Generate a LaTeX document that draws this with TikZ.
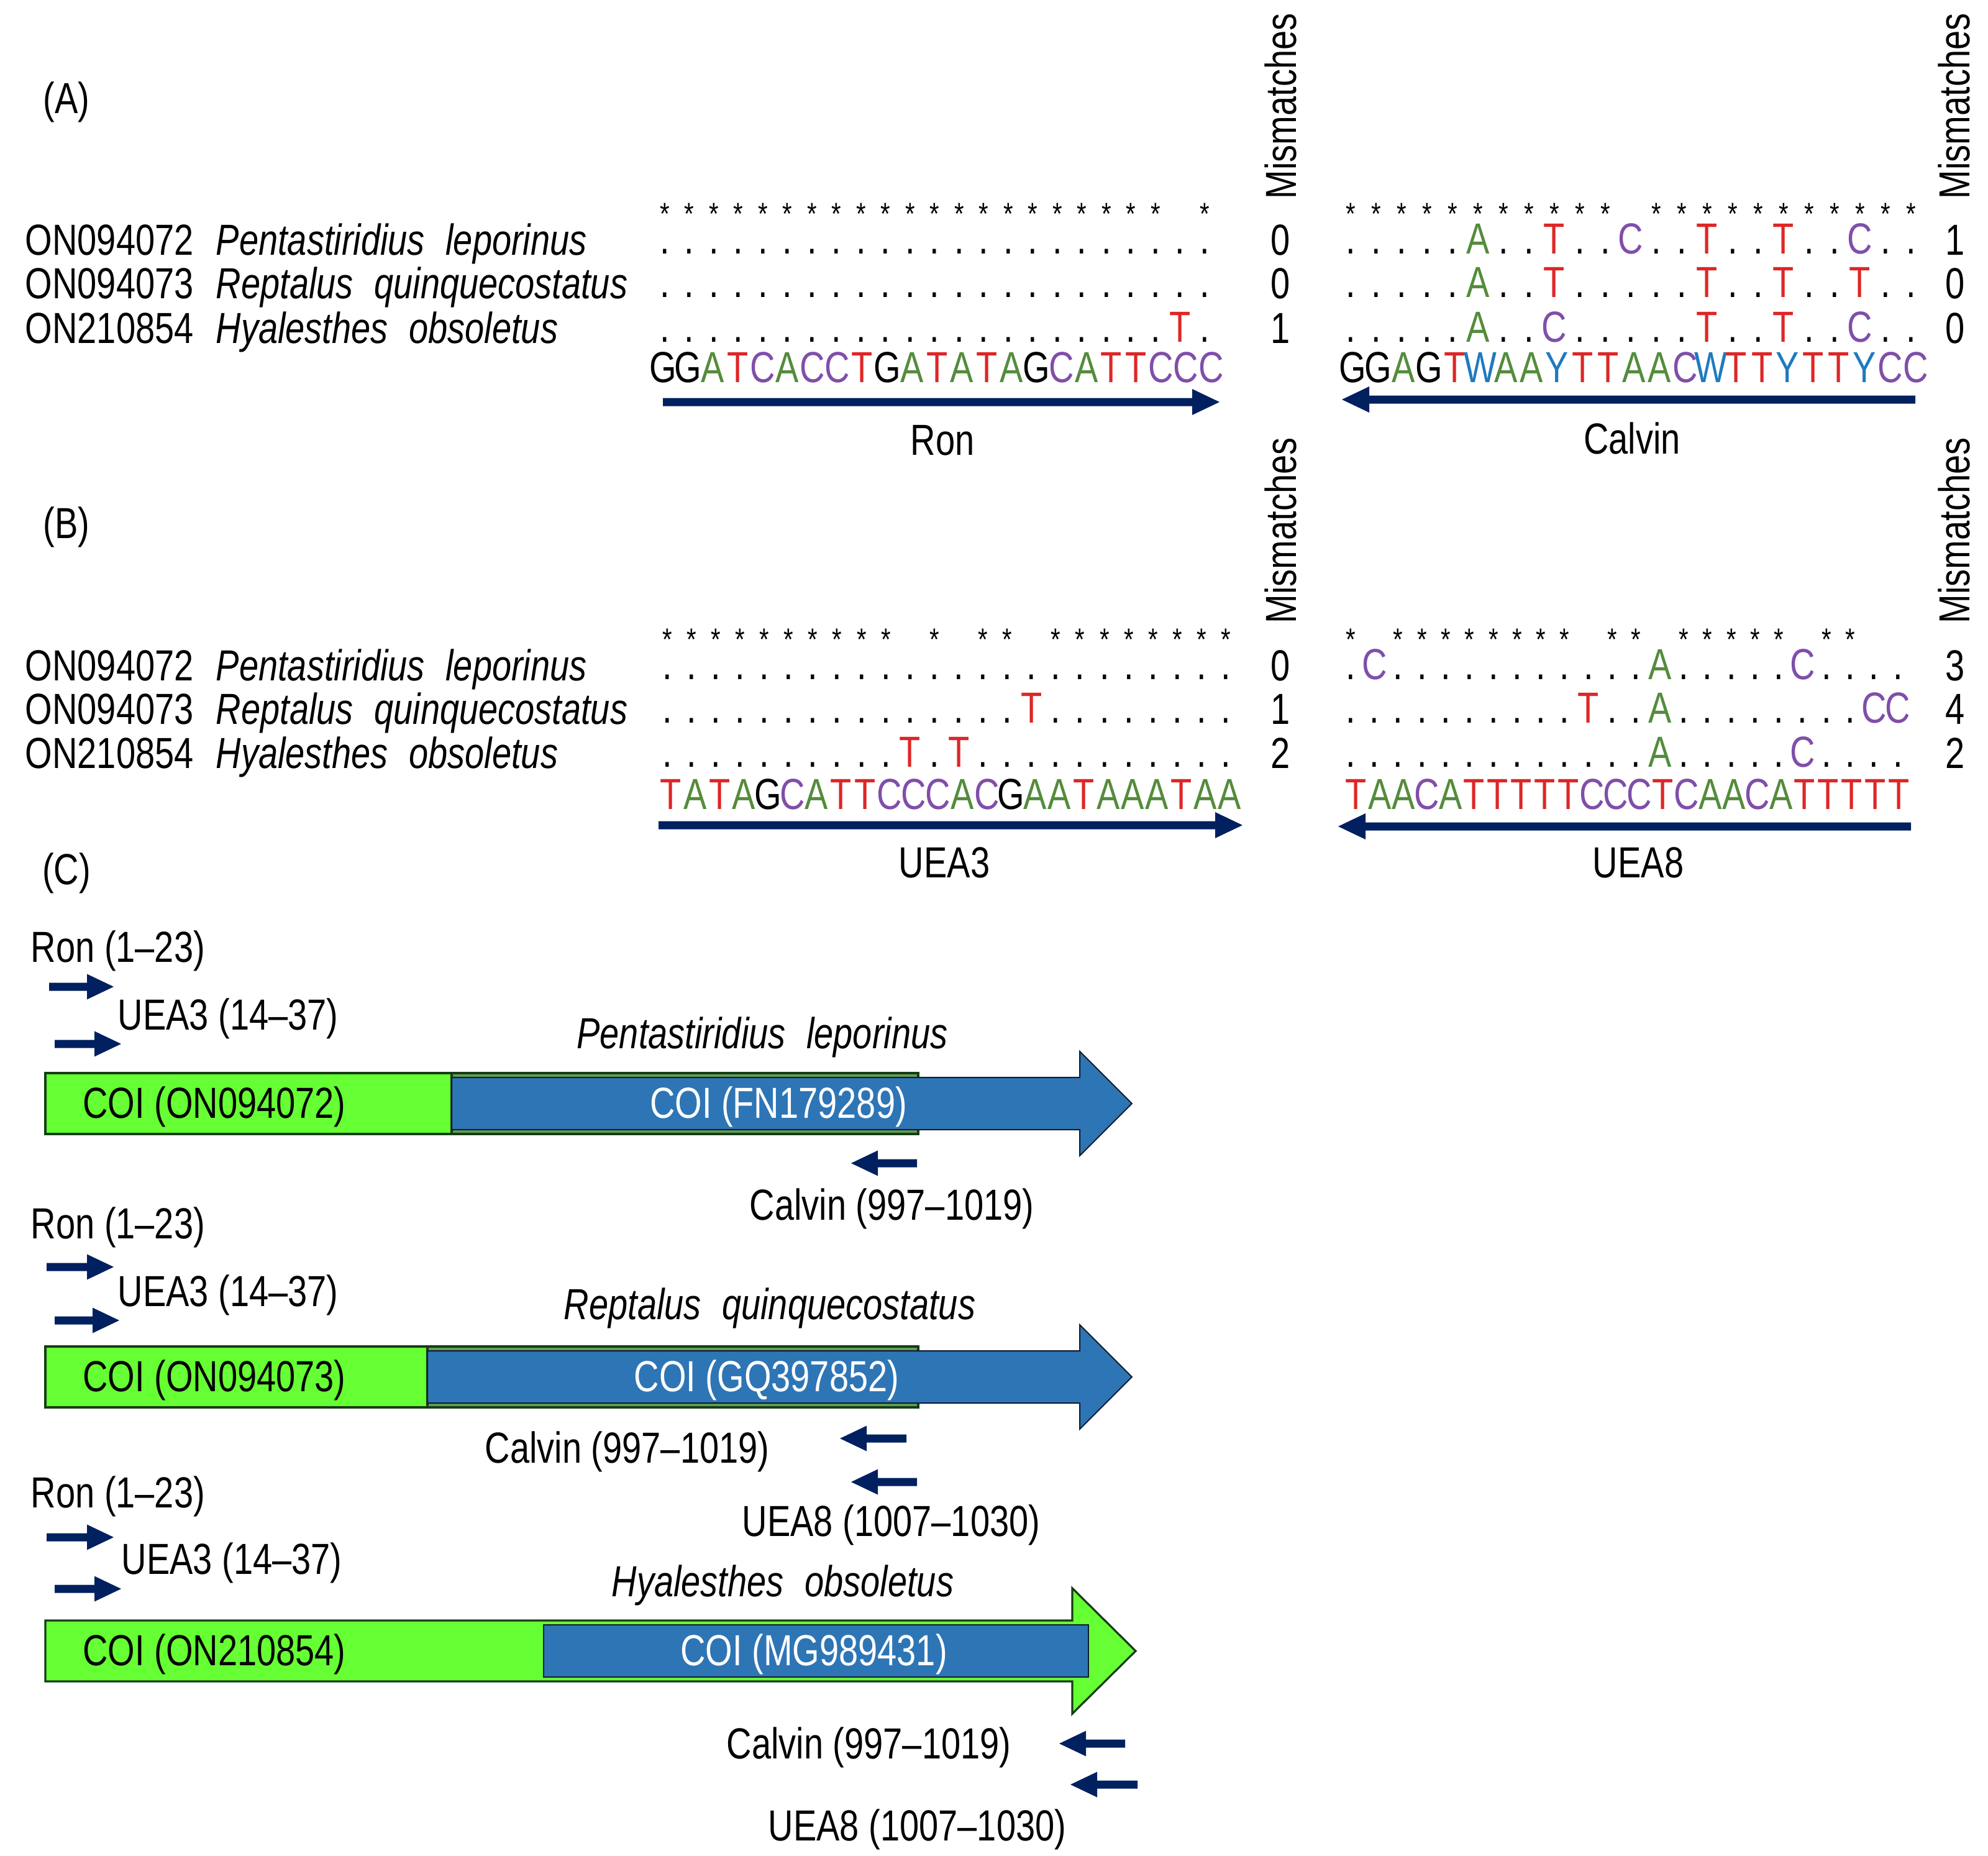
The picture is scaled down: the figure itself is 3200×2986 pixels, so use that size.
\documentclass[tikz,border=0pt]{standalone}
\usepackage{fontspec}
\setmainfont[FakeStretch=0.8]{Liberation Sans}
\definecolor{ntA}{RGB}{84,140,60}
\definecolor{ntT}{RGB}{222,38,38}
\definecolor{ntC}{RGB}{128,78,170}
\definecolor{ntW}{RGB}{30,122,192}
\definecolor{navy}{RGB}{0,32,96}
\definecolor{coigreen}{RGB}{102,255,51}
\definecolor{coigreenedge}{RGB}{22,60,22}
\definecolor{coistrip}{RGB}{98,158,86}
\definecolor{coiblue}{RGB}{46,117,182}
\definecolor{coiblueedge}{RGB}{14,28,48}
\newcommand\fs{\fontsize{17.5}{20}\selectfont}
\newcommand\starfs{\fontsize{12.5}{13}\selectfont}
\newcommand\spgap{\hspace{0.48em}}
\def\ntsA{\textcolor{ntA}{A}}
\def\ntsT{\textcolor{ntT}{T}}
\def\ntsC{\textcolor{ntC}{C}}
\def\ntsG{G}
\def\ntsW{\textcolor{ntW}{W}}
\def\ntsY{\textcolor{ntW}{Y}}
\def\ntsd{.}
\def\ntss{{\starfs *}}
\def\ntse{}
\newcommand\alnrow[5]{\foreach \ntx [count=\i] in {#5}{\node[seq] (#1-\i) at ({#2+(\i-1)*(#3)},#4) {\csname nts\ntx\endcsname};}}
\newcommand\farR[6]{\fill[navy] (#1,{#3-#4}) -- ({#2-#5},{#3-#4}) -- ({#2-#5},{#3-#6}) -- (#2,#3) -- ({#2-#5},{#3+#6}) -- ({#2-#5},{#3+#4}) -- (#1,{#3+#4}) -- cycle;}
\newcommand\farL[6]{\fill[navy] (#1,{#3-#4}) -- ({#2+#5},{#3-#4}) -- ({#2+#5},{#3-#6}) -- (#2,#3) -- ({#2+#5},{#3+#6}) -- ({#2+#5},{#3+#4}) -- (#1,{#3+#4}) -- cycle;}
\begin{document}
\begin{tikzpicture}[x=0.25pt,y=-0.25pt,
  seq/.style={inner sep=0pt, anchor=base, font=\fs},
  lbl/.style={inner sep=0pt, anchor=base west, font=\fs},
  ctr/.style={inner sep=0pt, anchor=base, font=\fs},
  mism/.style={inner sep=0pt, anchor=center, rotate=90, font=\fs},
  gbar/.style={fill=coigreen, draw=coigreenedge, line width=0.8pt},
  gstrip/.style={fill=coistrip, draw=coigreenedge, line width=0.8pt},
  barrow/.style={fill=coiblue, draw=coiblueedge, line width=0.5pt},
  brect/.style={fill=coiblue, draw=coiblueedge, line width=0.6pt}]
\useasboundingbox (0,0) rectangle (3200,2986);
\fill[white] (0,0) rectangle (3200,2986);

% ---------- panel labels
\node[ctr] (pA) at (107,182) {(A)};
\node[ctr] (pB) at (107,866) {(B)};
\node[ctr] (pC) at (107,1423) {(C)};

% ---------- species labels A and B
\foreach \yy/\pp in {410/a,1095/b}{
  \node[lbl] (id1\pp) at (40,\yy) {ON094072};
  \node[lbl] (sp1\pp) at (347,\yy) {\itshape Pentastiridius\spgap leporinus};
}
\foreach \yy/\pp in {480/a,1165/b}{
  \node[lbl] (id2\pp) at (40,\yy) {ON094073};
  \node[lbl] (sp2\pp) at (347,\yy) {\itshape Reptalus\spgap quinquecostatus};
}
\foreach \yy/\pp in {552/a,1236/b}{
  \node[lbl] (id3\pp) at (40,\yy) {ON210854};
  \node[lbl] (sp3\pp) at (347,\yy) {\itshape Hyalesthes\spgap obsoletus};
}

% ---------- Mismatches headers
\node[mism] (mmh1) at (2061,171) {Mismatches};
\node[mism] (mmh2) at (3145,171) {Mismatches};
\node[mism] (mmh3) at (2061,854) {Mismatches};
\node[mism] (mmh4) at (3145,854) {Mismatches};

% ---------- Panel A, Ron
\alnrow{ronS}{1070}{39.5}{361}{s,s,s,s,s,s,s,s,s,s,s,s,s,s,s,s,s,s,s,s,s,e,s}
\alnrow{ronA}{1070}{39.5}{408}{d,d,d,d,d,d,d,d,d,d,d,d,d,d,d,d,d,d,d,d,d,d,d}
\alnrow{ronB}{1070}{39.5}{478}{d,d,d,d,d,d,d,d,d,d,d,d,d,d,d,d,d,d,d,d,d,d,d}
\alnrow{ronC}{1070}{39.5}{550}{d,d,d,d,d,d,d,d,d,d,d,d,d,d,d,d,d,d,d,d,d,T,d}
\alnrow{ronQ}{1067}{40.1}{615}{G,G,A,T,C,A,C,C,T,G,A,T,A,T,A,G,C,A,T,T,C,C,C}
\farR{1067}{1963}{647}{6.5}{44}{21}
\node[ctr] (ronL) at (1517,732) {Ron};
\node[ctr] (ronM1) at (2061,410) {0};
\node[ctr] (ronM2) at (2061,480) {0};
\node[ctr] (ronM3) at (2061,552) {1};

% ---------- Panel A, Calvin
\alnrow{calS}{2174}{41}{361}{s,s,s,s,s,s,s,s,s,s,s,e,s,s,s,s,s,s,s,s,s,s,s}
\alnrow{calA}{2174}{41}{408}{d,d,d,d,d,A,d,d,T,d,d,C,d,d,T,d,d,T,d,d,C,d,d}
\alnrow{calB}{2174}{41}{478}{d,d,d,d,d,A,d,d,T,d,d,d,d,d,T,d,d,T,d,d,T,d,d}
\alnrow{calC}{2174}{41}{550}{d,d,d,d,d,A,d,d,C,d,d,d,d,d,T,d,d,T,d,d,C,d,d}
\alnrow{calQ}{2177}{41.2}{615}{G,G,A,G,T,W,A,A,Y,T,T,A,A,C,W,T,T,Y,T,T,Y,C,C}
\farL{3083}{2160}{643}{6.5}{44}{21}
\node[ctr] (calL) at (2627,730) {Calvin};
\node[ctr] (calM1) at (3147,410) {1};
\node[ctr] (calM2) at (3147,480) {0};
\node[ctr] (calM3) at (3147,552) {0};

% ---------- Panel B, UEA3
\alnrow{u3S}{1074}{39.1}{1046}{s,s,s,s,s,s,s,s,s,s,e,s,e,s,s,e,s,s,s,s,s,s,s,s}
\alnrow{u3A}{1074}{39.1}{1093}{d,d,d,d,d,d,d,d,d,d,d,d,d,d,d,d,d,d,d,d,d,d,d,d}
\alnrow{u3B}{1074}{39.1}{1163}{d,d,d,d,d,d,d,d,d,d,d,d,d,d,d,T,d,d,d,d,d,d,d,d}
\alnrow{u3C}{1074}{39.1}{1234}{d,d,d,d,d,d,d,d,d,d,T,d,T,d,d,d,d,d,d,d,d,d,d,d}
\alnrow{u3Q}{1080}{39.1}{1302}{T,A,T,A,G,C,A,T,T,C,C,C,A,C,G,A,A,T,A,A,A,T,A,A}
\farR{1060}{2000}{1328}{6.5}{44}{21}
\node[ctr] (u3L) at (1520,1412) {UEA3};
\node[ctr] (u3M1) at (2061,1095) {0};
\node[ctr] (u3M2) at (2061,1165) {1};
\node[ctr] (u3M3) at (2061,1236) {2};

% ---------- Panel B, UEA8
\alnrow{u8S}{2174}{38.3}{1046}{s,e,s,s,s,s,s,s,s,s,e,s,s,e,s,s,s,s,s,e,s,s,e,e}
\alnrow{u8A}{2174}{38.3}{1093}{d,C,d,d,d,d,d,d,d,d,d,d,d,A,d,d,d,d,d,C,d,d,d,d}
\alnrow{u8B}{2174}{38.3}{1163}{d,d,d,d,d,d,d,d,d,d,T,d,d,A,d,d,d,d,d,d,d,d,C,C}
\alnrow{u8C}{2174}{38.3}{1234}{d,d,d,d,d,d,d,d,d,d,d,d,d,A,d,d,d,d,d,C,d,d,d,d}
\alnrow{u8Q}{2183}{38.0}{1302}{T,A,A,C,A,T,T,T,T,T,C,C,C,T,C,A,A,C,A,T,T,T,T,T}
\farL{3076}{2154}{1330}{6.5}{44}{21}
\node[ctr] (u8L) at (2637,1412) {UEA8};
\node[ctr] (u8M1) at (3147,1095) {3};
\node[ctr] (u8M2) at (3147,1165) {4};
\node[ctr] (u8M3) at (3147,1236) {2};

% ---------- Panel C, block 1
\node[lbl] (c1ron) at (49,1548) {Ron (1--23)};
\farR{79}{183}{1588}{6.5}{43}{20.5}
\node[lbl] (c1uea3) at (189,1657) {UEA3 (14--37)};
\farR{88}{195}{1680}{6.5}{43}{20.5}
\node[ctr] (c1sp) at (1227,1687) {\itshape Pentastiridius\spgap leporinus};
\draw[gbar] (73,1727) rectangle (1478,1825);
\draw[gstrip] (727,1727) rectangle (1478,1825);
\draw[barrow] (727,1734) -- (1738,1734) -- (1738,1692) -- (1822,1776) -- (1738,1860) -- (1738,1818) -- (727,1818) -- cycle;
\node[ctr] (c1g) at (345,1799) {COI (ON094072)};
\node[ctr, text=white] (c1b) at (1253,1799) {COI (FN179289)};
\farL{1476}{1370}{1872}{6.5}{43}{20.5}
\node[lbl] (c1cal) at (1206,1963) {Calvin (997--1019)};

% ---------- Panel C, block 2
\node[lbl] (c2ron) at (49,1993) {Ron (1--23)};
\farR{75}{183}{2039}{6.5}{43}{20.5}
\node[lbl] (c2uea3) at (189,2102) {UEA3 (14--37)};
\farR{88}{192}{2125}{6.5}{43}{20.5}
\node[ctr] (c2sp) at (1239,2123) {\itshape Reptalus\spgap quinquecostatus};
\draw[gbar] (73,2167) rectangle (1478,2265);
\draw[gstrip] (688,2167) rectangle (1478,2265);
\draw[barrow] (688,2174) -- (1738,2174) -- (1738,2132) -- (1822,2216) -- (1738,2300) -- (1738,2258) -- (688,2258) -- cycle;
\node[ctr] (c2g) at (345,2239) {COI (ON094073)};
\node[ctr, text=white] (c2b) at (1234,2239) {COI (GQ397852)};
\farL{1459}{1352}{2315}{6.5}{43}{20.5}
\node[lbl] (c2cal) at (780,2354) {Calvin (997--1019)};
\farL{1476}{1370}{2385}{6.5}{43}{20.5}
\node[lbl] (c2uea8) at (1194,2472) {UEA8 (1007--1030)};

% ---------- Panel C, block 3
\node[lbl] (c3ron) at (49,2426) {Ron (1--23)};
\farR{75}{183}{2474}{6.5}{43}{20.5}
\node[lbl] (c3uea3) at (195,2533) {UEA3 (14--37)};
\farR{88}{195}{2557}{6.5}{43}{20.5}
\node[ctr] (c3sp) at (1260,2569) {\itshape Hyalesthes\spgap obsoletus};
\draw[gbar] (73,2608) -- (1726,2608) -- (1726,2556) -- (1828,2657) -- (1726,2758) -- (1726,2706) -- (73,2706) -- cycle;
\draw[brect] (875,2615) rectangle (1752,2699);
\node[ctr] (c3g) at (345,2680) {COI (ON210854)};
\node[ctr, text=white] (c3b) at (1310,2680) {COI (MG989431)};
\farL{1811}{1705}{2806}{6.5}{43}{20.5}
\node[lbl] (c3cal) at (1169,2830) {Calvin (997--1019)};
\farL{1831}{1723}{2872}{6.5}{43}{20.5}
\node[lbl] (c3uea8) at (1236,2962) {UEA8 (1007--1030)};
\end{tikzpicture}
\end{document}
